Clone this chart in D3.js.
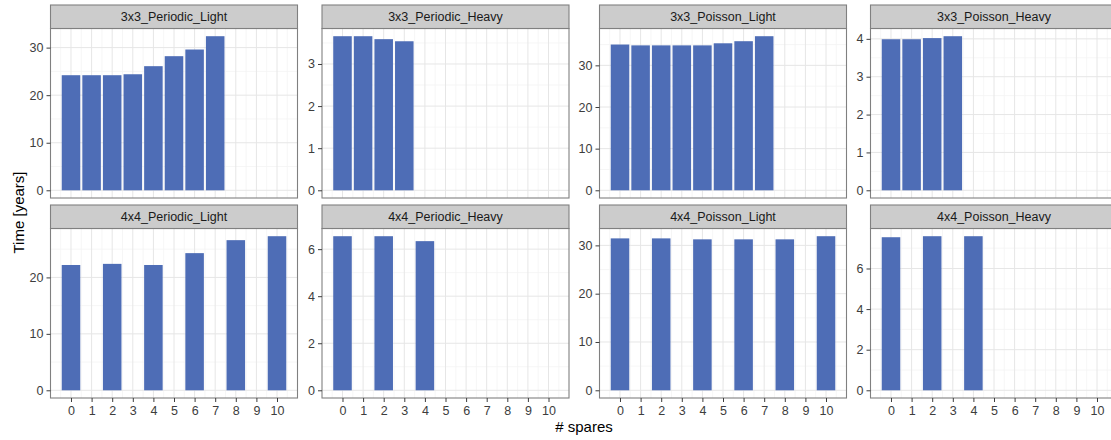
<!DOCTYPE html>
<html>
<head>
<meta charset="utf-8">
<script src="https://cdn.jsdelivr.net/npm/d3@7"></script>
<style>
  html, body { margin: 0; padding: 0; background: #ffffff; }
  svg { display: block; font-family: "Liberation Sans", Arial, Helvetica, sans-serif; }
</style>
</head>
<body>
<svg id="chart" width="1111" height="440"></svg>
<script>
// ---------------- data ----------------
const spareTicks = [0, 1, 2, 3, 4, 5, 6, 7, 8, 9, 10];
const facetNames = [
  "3x3_Periodic_Light", "3x3_Periodic_Heavy", "3x3_Poisson_Light", "3x3_Poisson_Heavy",
  "4x4_Periodic_Light", "4x4_Periodic_Heavy", "4x4_Poisson_Light", "4x4_Poisson_Heavy"
];
const spares3x3Light = [0, 1, 2, 3, 4, 5, 6, 7];
const spares3x3Heavy = [0, 1, 2, 3];
const spares4x4Light = [0, 2, 4, 6, 8, 10];
const spares4x4Heavy = [0, 2, 4];

const time3x3PeriodicLight = [24.2, 24.2, 24.2, 24.4, 26.1, 28.2, 29.6, 32.4];
const time3x3PeriodicHeavy = [3.66, 3.66, 3.59, 3.54];
const time3x3PoissonLight  = [35.0, 34.8, 34.8, 34.8, 34.8, 35.3, 35.8, 37.0];
const time3x3PoissonHeavy  = [3.99, 3.99, 4.02, 4.07];
const time4x4PeriodicLight = [22.2, 22.4, 22.2, 24.3, 26.6, 27.3];
const time4x4PeriodicHeavy = [6.55, 6.55, 6.34];
const time4x4PoissonLight  = [31.45, 31.45, 31.25, 31.25, 31.25, 31.9];
const time4x4PoissonHeavy  = [7.54, 7.59, 7.59];

const yTicks3x3PeriodicLight = [0, 10, 20, 30];
const yTicks3x3PeriodicHeavy = [0, 1, 2, 3];
const yTicks3x3PoissonLight  = [0, 10, 20, 30];
const yTicks3x3PoissonHeavy  = [0, 1, 2, 3, 4];
const yTicks4x4PeriodicLight = [0, 10, 20];
const yTicks4x4PeriodicHeavy = [0, 2, 4, 6];
const yTicks4x4PoissonLight  = [0, 10, 20, 30];
const yTicks4x4PoissonHeavy  = [0, 2, 4, 6];

const xTitle = "# spares";
const yTitle = "Time [years]";

// -------------- facets assembled from arrays --------------
const facets = [
  { name: facetNames[0], x: spares3x3Light, y: time3x3PeriodicLight, ticks: yTicks3x3PeriodicLight },
  { name: facetNames[1], x: spares3x3Heavy, y: time3x3PeriodicHeavy, ticks: yTicks3x3PeriodicHeavy },
  { name: facetNames[2], x: spares3x3Light, y: time3x3PoissonLight,  ticks: yTicks3x3PoissonLight },
  { name: facetNames[3], x: spares3x3Heavy, y: time3x3PoissonHeavy,  ticks: yTicks3x3PoissonHeavy },
  { name: facetNames[4], x: spares4x4Light, y: time4x4PeriodicLight, ticks: yTicks4x4PeriodicLight },
  { name: facetNames[5], x: spares4x4Heavy, y: time4x4PeriodicHeavy, ticks: yTicks4x4PeriodicHeavy },
  { name: facetNames[6], x: spares4x4Light, y: time4x4PoissonLight,  ticks: yTicks4x4PoissonLight },
  { name: facetNames[7], x: spares4x4Heavy, y: time4x4PoissonHeavy,  ticks: yTicks4x4PoissonHeavy }
];

// -------------- layout --------------
const colLeft = [50.5, 322, 599.5, 870.5];
const panelW = 247;
const stripTop = [5, 205];
const stripH = 23.5;
const panelH = 169.5;
const barColor = "#4e6db6";
const borderColor = "#808080";
const majorGrid = "#e6e6e6";
const minorGrid = "#f4f4f4";
const tickColor = "#3d3d3d";
const barWidth = 0.9;

const svg = d3.select("#chart");

// shared x scale domain (continuous, ggplot-style 5% expansion)
const xLo = d3.min(spareTicks) - barWidth / 2, xHi = d3.max(spareTicks) + barWidth / 2;
const xPad = (xHi - xLo) * 0.05;
const xMinor = d3.range(d3.min(spareTicks) - 0.5, d3.max(spareTicks) + 1, 1);

facets.forEach((f, i) => {
  const col = i % 4, row = Math.floor(i / 4);
  const left = colLeft[col];
  const sTop = stripTop[row];
  const pTop = sTop + stripH;
  const pBot = pTop + panelH;

  const x = d3.scaleLinear().domain([xLo - xPad, xHi + xPad]).range([left, left + panelW]);
  const yMax = d3.max(f.y);
  const yPad = yMax * 0.05;
  const y = d3.scaleLinear().domain([-yPad, yMax + yPad]).range([pBot, pTop]);

  const g = svg.append("g");

  g.append("rect").attr("x", left).attr("y", pTop).attr("width", panelW).attr("height", panelH)
    .attr("fill", "#ffffff");

  const step = f.ticks[1] - f.ticks[0];
  const yMinor = f.ticks.map(t => t + step / 2).concat([f.ticks[0] - step / 2])
    .filter(v => v > y.domain()[0] && v < y.domain()[1]);
  g.selectAll(".yminor").data(yMinor).enter().append("line")
    .attr("x1", left).attr("x2", left + panelW)
    .attr("y1", d => y(d)).attr("y2", d => y(d))
    .attr("stroke", minorGrid).attr("stroke-width", 0.8);
  g.selectAll(".xminor").data(xMinor.filter(v => v > x.domain()[0] && v < x.domain()[1])).enter().append("line")
    .attr("y1", pTop).attr("y2", pBot)
    .attr("x1", d => x(d)).attr("x2", d => x(d))
    .attr("stroke", minorGrid).attr("stroke-width", 0.8);
  g.selectAll(".ymajor").data(f.ticks).enter().append("line")
    .attr("x1", left).attr("x2", left + panelW)
    .attr("y1", d => y(d)).attr("y2", d => y(d))
    .attr("stroke", majorGrid).attr("stroke-width", 1);
  g.selectAll(".xmajor").data(spareTicks).enter().append("line")
    .attr("y1", pTop).attr("y2", pBot)
    .attr("x1", d => x(d)).attr("x2", d => x(d))
    .attr("stroke", majorGrid).attr("stroke-width", 1);

  g.selectAll(".bar").data(f.x.map((s, k) => ({ s, v: f.y[k] }))).enter().append("rect")
    .attr("x", d => x(d.s - barWidth / 2))
    .attr("width", d => x(d.s + barWidth / 2) - x(d.s - barWidth / 2))
    .attr("y", d => y(d.v))
    .attr("height", d => y(0) - y(d.v))
    .attr("fill", barColor);

  g.append("rect").attr("x", left).attr("y", pTop).attr("width", panelW).attr("height", panelH)
    .attr("fill", "none").attr("stroke", borderColor).attr("stroke-width", 1.1);

  g.append("rect").attr("x", left).attr("y", sTop).attr("width", panelW).attr("height", stripH)
    .attr("fill", "#cccccc").attr("stroke", borderColor).attr("stroke-width", 1.1);
  g.append("text").attr("x", left + panelW / 2).attr("y", sTop + stripH / 2)
    .attr("text-anchor", "middle").attr("dominant-baseline", "central")
    .attr("font-size", 12.5).attr("fill", "#1a1a1a").text(f.name);

  const yAxis = d3.axisLeft(y).tickValues(f.ticks).tickSize(4).tickPadding(3).tickFormat(d3.format("d"));
  const ya = svg.append("g").attr("transform", `translate(${left},0)`).call(yAxis);
  ya.select(".domain").remove();
  ya.selectAll(".tick line").attr("stroke", tickColor).attr("stroke-width", 1);
  ya.selectAll(".tick text").attr("fill", tickColor).attr("font-size", 12.5)
    .attr("font-family", "'Liberation Sans', Arial, sans-serif");

  if (row === 1) {
    const xAxis = d3.axisBottom(x).tickValues(spareTicks).tickSize(4).tickPadding(4).tickFormat(d3.format("d"));
    const xa = svg.append("g").attr("transform", `translate(0,${pBot})`).call(xAxis);
    xa.select(".domain").remove();
    xa.selectAll(".tick line").attr("stroke", tickColor).attr("stroke-width", 1);
    xa.selectAll(".tick text").attr("fill", tickColor).attr("font-size", 12.5)
      .attr("font-family", "'Liberation Sans', Arial, sans-serif");
  }
});

svg.append("text").attr("x", 584).attr("y", 432)
  .attr("text-anchor", "middle").attr("font-size", 15).attr("fill", "#000")
  .text(xTitle);
svg.append("text").attr("transform", "translate(24,212.5) rotate(-90)")
  .attr("text-anchor", "middle").attr("font-size", 15).attr("fill", "#000")
  .text(yTitle);
</script>
</body>
</html>
